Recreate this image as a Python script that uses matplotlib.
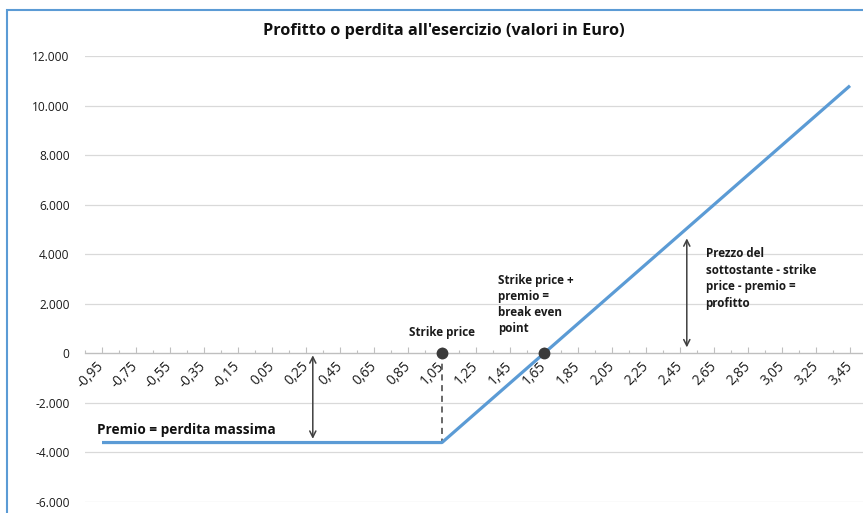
import matplotlib
matplotlib.use("Agg")
import matplotlib.pyplot as plt
from matplotlib.ticker import FuncFormatter, FixedLocator
from matplotlib.patches import Rectangle

# categorie (prezzo del sottostante) e profitto/perdita
categories = [
    "-0,95", "-0,85", "-0,75", "-0,65", "-0,55", "-0,45", "-0,35", "-0,25", "-0,15", "-0,05",
    "0,05", "0,15", "0,25", "0,35", "0,45", "0,55", "0,65", "0,75", "0,85", "0,95",
    "1,05", "1,15", "1,25", "1,35", "1,45", "1,55", "1,65", "1,75", "1,85", "1,95",
    "2,05", "2,15", "2,25", "2,35", "2,45", "2,55", "2,65", "2,75", "2,85", "2,95",
    "3,05", "3,15", "3,25", "3,35", "3,45",
]
profit = [
    -3600, -3600, -3600, -3600, -3600, -3600, -3600, -3600, -3600, -3600,
    -3600, -3600, -3600, -3600, -3600, -3600, -3600, -3600, -3600, -3600,
    -3600, -3000, -2400, -1800, -1200, -600, 0, 600, 1200, 1800,
    2400, 3000, 3600, 4200, 4800, 5400, 6000, 6600, 7200, 7800,
    8400, 9000, 9600, 10200, 10800,
]
strike_idx = 20
breakeven_idx = 26
premium = -3600

LINE_BLUE = "#5B9BD5"
DARK = "#404040"
TXT = "#1a1a1a"

plt.rcParams["font.family"] = ["Open Sans", "DejaVu Sans"]

W, H = 863, 513
fig = plt.figure(figsize=(W / 100, H / 100), dpi=100)
ax = fig.add_axes([85 / W, 1 - 502 / H, 1 - 85 / W, (502 - 56) / H])

x = list(range(len(categories)))
ax.plot(x, profit, color=LINE_BLUE, lw=2.3, solid_capstyle="butt", zorder=3)

ax.set_ylim(-6000, 12000)
ax.set_xlim(-1, (W - 102) / 17)
ax.set_yticks(range(-6000, 12001, 2000))
ax.yaxis.set_major_formatter(FuncFormatter(lambda v, p: f"{int(v):,}".replace(",", ".")))
ax.grid(axis="y", color="#d9d9d9", lw=0.9)
ax.set_axisbelow(True)

for s in ["left", "right", "top"]:
    ax.spines[s].set_visible(False)
ax.spines["bottom"].set_position(("data", 0))
ax.spines["bottom"].set_color("#bfbfbf")
ax.spines["bottom"].set_linewidth(0.9)
ax.spines["bottom"].set_zorder(2)

ax.xaxis.set_major_locator(FixedLocator(x[::2]))
ax.set_xticklabels(categories[::2], rotation=45, ha="right", va="center",
                   rotation_mode="anchor", fontsize=9.8, color=TXT)
ax.xaxis.set_minor_locator(FixedLocator([-1] + x[1::2]))
ax.tick_params(axis="x", which="major", direction="in", length=4, width=0.8,
               color="#bfbfbf", pad=8)
ax.tick_params(axis="x", which="minor", direction="in", length=2.2, width=0.8,
               color="#bfbfbf")
ax.tick_params(axis="y", length=0, pad=11, labelsize=8.6, labelcolor=TXT)

# strike price e break even
ax.plot([strike_idx, strike_idx], [0, premium], color=DARK, lw=1.1,
        ls=(0, (4, 3)), zorder=2)
ax.plot([strike_idx, breakeven_idx], [0, 0], ls="none", marker="o",
        ms=7.5, color="#3a3a3a", zorder=4)

arrow = dict(arrowstyle="<->", color=DARK, lw=1.1, shrinkA=0, shrinkB=0,
             mutation_scale=11)
ax.annotate("", xy=(12.4, -3450), xytext=(12.4, -80), arrowprops=arrow)
ax.annotate("", xy=(34.4, 4640), xytext=(34.4, 240), arrowprops=arrow)

ax.text(strike_idx, 850, "Strike price", ha="center", va="center",
        fontsize=8.4, fontweight="bold", color=TXT)
ax.text(23.3, 3220, "Strike price +\npremio =\nbreak even\npoint", ha="left",
        va="top", fontsize=8.4, fontweight="bold", color=TXT, linespacing=1.3)
ax.text(35.5, 4280, "Prezzo del\nsottostante - strike\nprice - premio =\nprofitto",
        ha="left", va="top", fontsize=8.4, fontweight="bold", color=TXT,
        linespacing=1.36)
ax.text(-0.3, -3100, "Premio = perdita massima", ha="left", va="center",
        fontsize=9.8, fontweight="bold", color="#111111")

fig.text(444 / W, 1 - 31 / H, "Profitto o perdita all'esercizio (valori in Euro)",
         ha="center", va="center", fontsize=11.7, fontweight="bold", color="#111111")

# cornice del grafico
fig.add_artist(Rectangle((7 / W, -0.1), 1.2, 1.1 - 10 / H, transform=fig.transFigure,
                         fill=False, edgecolor=LINE_BLUE, lw=1.5))

fig.savefig("out.png", dpi=100)
